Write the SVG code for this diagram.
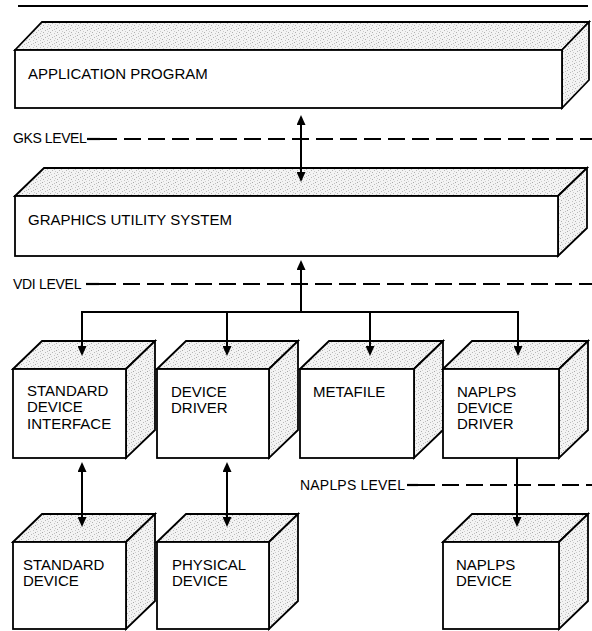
<svg xmlns="http://www.w3.org/2000/svg" width="592" height="631" viewBox="0 0 592 631">
<style>
.face{fill:url(#stip);stroke:#000;stroke-width:1.8;stroke-linejoin:miter}
.front{fill:#fff;stroke:#000;stroke-width:1.8}
.t{font-family:"Liberation Sans",Arial,Helvetica,sans-serif;font-size:15px;fill:#000}
.lv{font-family:"Liberation Sans",Arial,Helvetica,sans-serif;font-size:14px;fill:#000}
.dash{stroke:#000;stroke-width:2.2;fill:none;stroke-dasharray:17 7}
.c{stroke:#000;stroke-width:2;fill:none}
</style>
<defs>
<pattern id="stip" width="7" height="7" patternUnits="userSpaceOnUse">
<rect width="7" height="7" fill="#f3f3f3"/>
<rect x="0" y="0" width="1" height="1" fill="#a8a8a8"/>
<rect x="3" y="2" width="1" height="1" fill="#b8b8b8"/>
<rect x="1" y="4" width="1" height="1" fill="#b0b0b0"/>
<rect x="5" y="5" width="1" height="1" fill="#c4c4c4"/>
<rect x="5" y="1" width="1" height="1" fill="#c0c0c0"/>
<rect x="2" y="6" width="1" height="1" fill="#d0d0d0"/>
<rect x="6" y="3" width="1" height="1" fill="#cccccc"/>
</pattern>
<marker id="ah" viewBox="0 0 10 9" refX="8" refY="4.5" markerWidth="10" markerHeight="9" markerUnits="userSpaceOnUse" orient="auto-start-reverse">
<path d="M0,0 L10,4.5 L0,9 z" fill="#000"/>
</marker>
</defs>

<line x1="18" y1="6" x2="588" y2="6" stroke="#000" stroke-width="2"/>

<g id="levels">
<text class="lv" x="13" y="143" letter-spacing="-0.4">GKS LEVEL</text>
<line x1="87" y1="139" x2="100" y2="139" stroke="#000" stroke-width="2.2"/>
<line class="dash" x1="100" y1="139" x2="592" y2="139"/>
<text class="lv" x="13" y="289" letter-spacing="-0.3">VDI LEVEL</text>
<line x1="86" y1="284" x2="99" y2="284" stroke="#000" stroke-width="2.2"/>
<line class="dash" x1="99" y1="284" x2="592" y2="284"/>
<text class="lv" x="300" y="490" letter-spacing="0.2">NAPLPS LEVEL</text>
<line x1="407" y1="485" x2="418" y2="485" stroke="#000" stroke-width="2.2"/>
<line class="dash" x1="418" y1="485" x2="592" y2="485"/>
</g>

<g id="application-program">
<polygon class="face" points="15,50 42,22 589,22 562,50"/>
<polygon class="face" points="562,50 589,22 589,80 562,108"/>
<rect class="front" x="15" y="50" width="547" height="58"/>
<text class="t" x="28" y="79">APPLICATION PROGRAM</text>
</g>

<g id="graphics-utility-system">
<polygon class="face" points="15,196 44,168 587,168 558,196"/>
<polygon class="face" points="558,196 587,168 587,228 558,256"/>
<rect class="front" x="15" y="196" width="543" height="60"/>
<text class="t" x="28" y="225">GRAPHICS UTILITY SYSTEM</text>
</g>

<g id="standard-device-interface">
<polygon class="face" points="13,369 42,341 155,341 126,369"/>
<polygon class="face" points="126,369 155,341 155,430 126,458"/>
<rect class="front" x="13" y="369" width="113" height="89"/>
<text class="t" x="27" y="396">STANDARD</text>
<text class="t" x="27" y="412">DEVICE</text>
<text class="t" x="27" y="428.5">INTERFACE</text>
</g>

<g id="device-driver">
<polygon class="face" points="157,369 186,341 298,341 269,369"/>
<polygon class="face" points="269,369 298,341 298,430 269,458"/>
<rect class="front" x="157" y="369" width="112" height="89"/>
<text class="t" x="171" y="397">DEVICE</text>
<text class="t" x="171" y="413">DRIVER</text>
</g>

<g id="metafile">
<polygon class="face" points="300,369 329,341 443,341 414,369"/>
<polygon class="face" points="414,369 443,341 443,430 414,458"/>
<rect class="front" x="300" y="369" width="114" height="89"/>
<text class="t" x="313" y="396.5">METAFILE</text>
</g>

<g id="naplps-device-driver">
<polygon class="face" points="443,369 472,341 588,341 559,369"/>
<polygon class="face" points="559,369 588,341 588,430 559,458"/>
<rect class="front" x="443" y="369" width="116" height="89"/>
<text class="t" x="457" y="397">NAPLPS</text>
<text class="t" x="457" y="413">DEVICE</text>
<text class="t" x="457" y="429">DRIVER</text>
</g>

<g id="standard-device">
<polygon class="face" points="13,542 42,514 155,514 126,542"/>
<polygon class="face" points="126,542 155,514 155,601 126,629"/>
<rect class="front" x="13" y="542" width="113" height="87"/>
<text class="t" x="23" y="570">STANDARD</text>
<text class="t" x="23" y="586">DEVICE</text>
</g>

<g id="physical-device">
<polygon class="face" points="157,542 186,514 298,514 269,542"/>
<polygon class="face" points="269,542 298,514 298,601 269,629"/>
<rect class="front" x="157" y="542" width="112" height="87"/>
<text class="t" x="172" y="570">PHYSICAL</text>
<text class="t" x="172" y="586">DEVICE</text>
</g>

<g id="naplps-device">
<polygon class="face" points="443,542 472,514 588,514 559,542"/>
<polygon class="face" points="559,542 588,514 588,601 559,629"/>
<rect class="front" x="443" y="542" width="116" height="87"/>
<text class="t" x="456" y="570">NAPLPS</text>
<text class="t" x="456" y="586">DEVICE</text>
</g>

<g id="connectors">
<line class="c" x1="301" y1="117" x2="301" y2="180" marker-start="url(#ah)" marker-end="url(#ah)"/>
<line class="c" x1="301" y1="312" x2="301" y2="262" marker-end="url(#ah)"/>
<polyline class="c" points="82,354 82,312 518,312 518,354" marker-start="url(#ah)" marker-end="url(#ah)"/>
<line class="c" x1="227" y1="312" x2="227" y2="354" marker-end="url(#ah)"/>
<line class="c" x1="370" y1="312" x2="370" y2="354" marker-end="url(#ah)"/>
<line class="c" x1="82" y1="464" x2="82" y2="525" marker-start="url(#ah)" marker-end="url(#ah)"/>
<line class="c" x1="227" y1="464" x2="227" y2="525" marker-start="url(#ah)" marker-end="url(#ah)"/>
<line class="c" x1="517" y1="458" x2="517" y2="525" marker-end="url(#ah)"/>
</g>
</svg>
